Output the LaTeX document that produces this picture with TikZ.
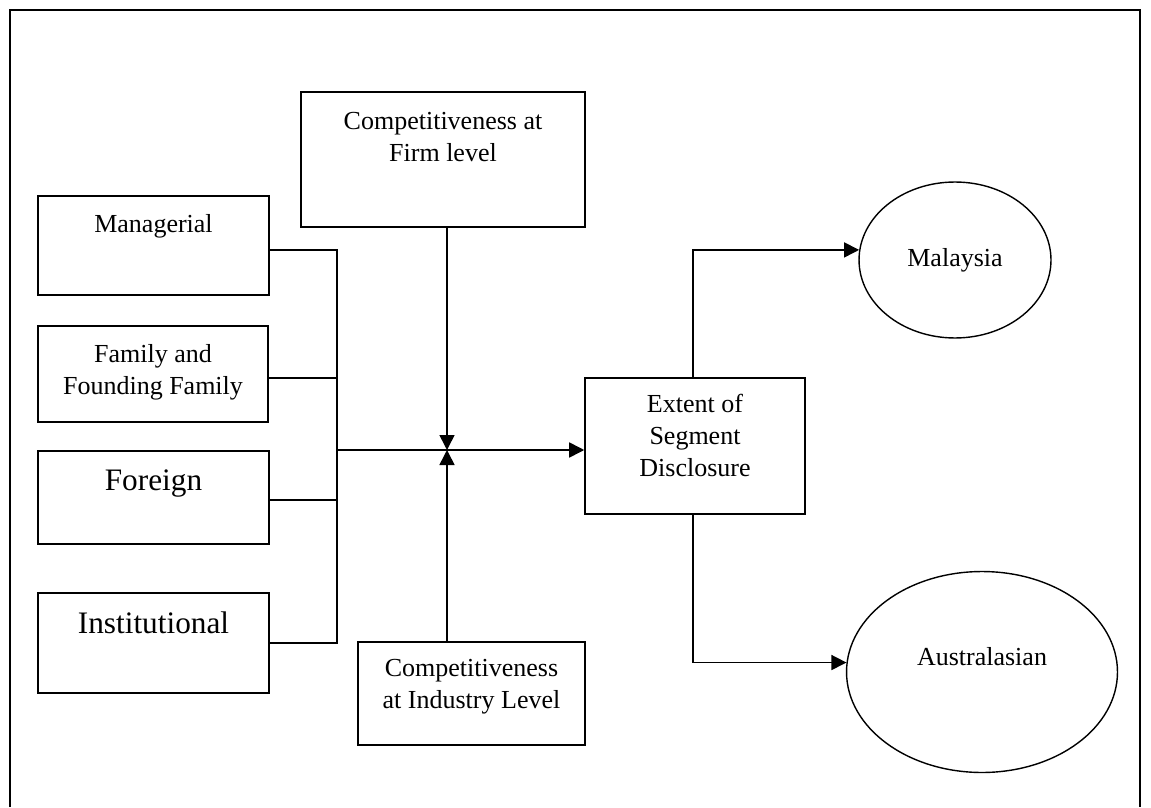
\documentclass[tikz,border=0pt]{standalone}
\usepackage{fontspec}
\setmainfont{Liberation Serif}
\usetikzlibrary{arrows.meta,shapes.geometric}

\tikzset{
	box/.style={draw, line width=0.9pt, inner sep=0pt},
	boxtext/.style={anchor=north, align=center, inner sep=0pt, yshift=-#1},
	boxtext/.default=0.38cm,
	bigtext/.style={font=\fontsize{17.8}{21}\selectfont},
	oval/.style={draw, ellipse, line width=0.8pt, inner sep=0pt},
	conn/.style={line width=0.9pt},
	arr/.style={conn, -{Triangle[length=0.3cm, width=0.3cm]}}
}

\begin{document}
\begin{tikzpicture}[x=0.02cm, y=-0.02cm, font=\fontsize{14.8}{18.2}\selectfont]
		\useasboundingbox (0,0) rectangle (1151,807);
		% outer frame, open at the bottom
		\draw[conn] (10,807) -- (10,10) -- (1140,10) -- (1140,807);
		
		% ownership boxes
		\node[box, minimum width=4.62cm, minimum height=1.98cm, label={[boxtext]north:Managerial}] (mgr) at (153.5,245.5) {};
		\node[box, minimum width=4.60cm, minimum height=1.92cm, label={[boxtext]north:{Family and\\Founding Family}}] (fam) at (153,374) {};
		\node[box, minimum width=4.62cm, minimum height=1.86cm, label={[boxtext, bigtext]north:Foreign}] (for) at (153.5,497.5) {};
		\node[box, minimum width=4.62cm, minimum height=2.00cm, label={[boxtext, bigtext]north:Institutional}] (ins) at (153.5,643) {};
		
		% moderators and outcome
		\node[box, minimum width=5.68cm, minimum height=2.70cm, label={[boxtext=0.42cm]north:{Competitiveness at\\Firm level}}] (firm) at (443,159.5) {};
		\node[box, minimum width=4.54cm, minimum height=2.06cm, label={[boxtext=0.36cm]north:{Competitiveness\\at Industry Level}}] (ind) at (471.5,693.5) {};
		\node[box, minimum width=4.40cm, minimum height=2.72cm, label={[boxtext=0.34cm]north:{Extent of\\Segment\\Disclosure}}] (ext) at (695,446) {};
		
		\node[oval, minimum width=3.84cm, minimum height=3.12cm] (mal) at (955,260) {Malaysia};
		\node[oval, minimum width=5.42cm, minimum height=4.02cm, label={[yshift=0.3cm]center:Australasian}] (aus) at (982,672) {};
		
		% bus joining the ownership boxes
		\coordinate (bustop) at (337,250);
		\coordinate (busbot) at (337,643);
		\coordinate (hub) at (447,450);
		\draw[conn] (mgr.east |- bustop) -- (bustop) -- (busbot) -- (ins.east);
		\draw[conn] (fam.east |- 0,378) -- (bustop |- 0,378);
		\draw[conn] (for.east |- 0,500) -- (bustop |- 0,500);
		
		\draw[arr] (bustop |- hub) -- (ext.west |- hub);
		\draw[arr] (hub |- firm.south) -- (hub);
		\draw[arr] (hub |- ind.north) -- (hub);
		
		\draw[arr] (ext.north -| 693,0) |- (mal.174);
		\draw[arr] (ext.south -| 693,0) |- (aus.176);
		
\end{tikzpicture}
\end{document}
